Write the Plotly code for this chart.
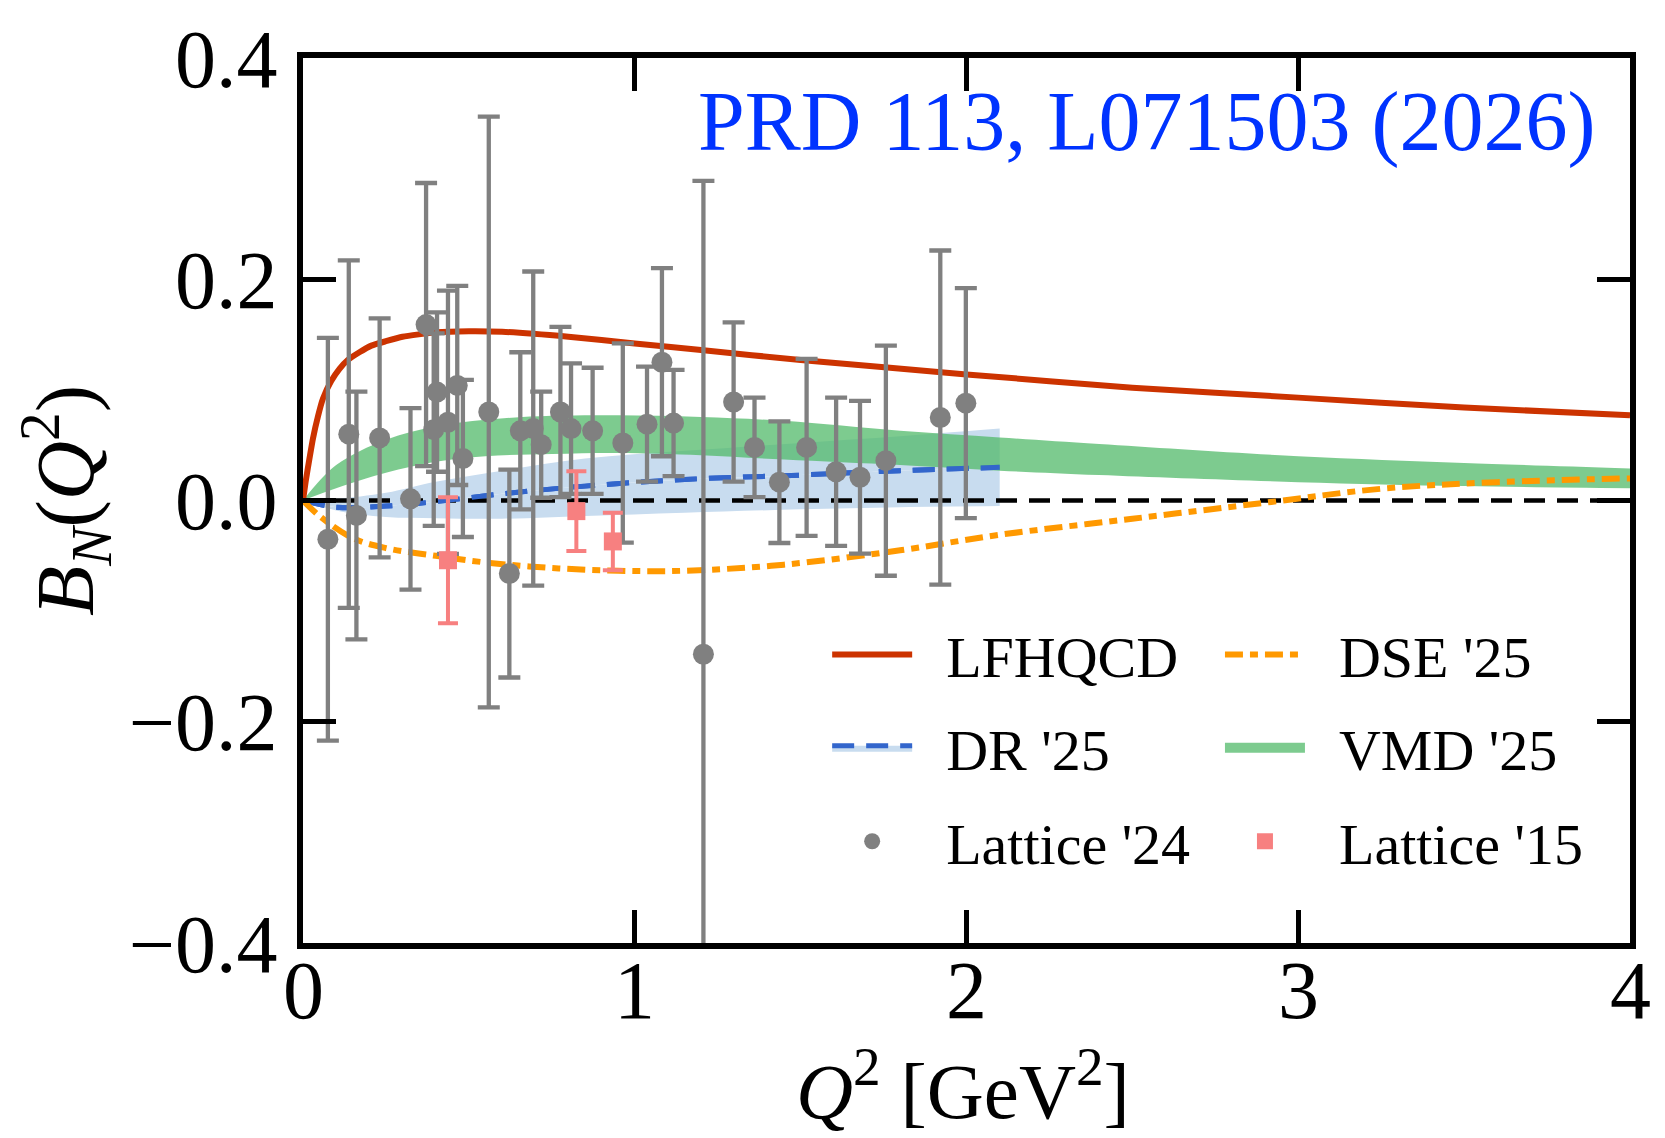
import plotly.graph_objects as go

# ---------------- data ----------------
# LFHQCD curve
lf_x = [0, 0.008, 0.015, 0.03, 0.045, 0.06, 0.085, 0.11, 0.135, 0.17, 0.206, 0.25, 0.3, 0.4, 0.5,
        0.6, 0.8, 1.0, 1.2, 1.5, 2.0, 2.5, 3.0, 3.5, 4.0]
lf_y = [0, 0.017, 0.03, 0.056, 0.076, 0.092, 0.108, 0.119, 0.127, 0.134, 0.140, 0.144, 0.148, 0.152, 0.153,
        0.1525, 0.148, 0.142, 0.136, 0.127, 0.114, 0.102, 0.093, 0.084, 0.077]

# DSE '25 curve
dse_x = [0, 0.05, 0.15, 0.25, 0.4, 0.55, 0.75, 0.95, 1.15, 1.45, 1.8, 2.1, 2.5, 2.9, 3.25, 3.6, 4.0]
dse_y = [0, -0.014, -0.034, -0.043, -0.050, -0.056, -0.061, -0.0635, -0.0635, -0.058, -0.045, -0.031,
         -0.0165, -0.002, 0.0106, 0.0166, 0.020]

# DR '25 central value and band
dr_x = [0, 0.1, 0.25, 0.4, 0.6, 0.85, 1.15, 1.5, 1.8, 2.1]
dr_mid = [0, -0.006, -0.005, -0.001, 0.006, 0.013, 0.019, 0.023, 0.027, 0.030]
dr_lo = [0, -0.009, -0.015, -0.016, -0.0165, -0.014, -0.011, -0.008, -0.006, -0.005]
dr_hi = [0, 0.0015, 0.007, 0.017, 0.027, 0.038, 0.045, 0.052, 0.058, 0.065]

# VMD '25 band
vmd_x = [0, 0.1, 0.25, 0.4, 0.55, 0.75, 0.95, 1.2, 1.45, 1.8, 2.1, 2.4, 3.0, 3.5, 4.0]
vmd_hi = [0, 0.032, 0.055, 0.067, 0.073, 0.0765, 0.077, 0.0755, 0.072, 0.063, 0.057, 0.051, 0.040, 0.034, 0.029]
vmd_lo = [0, 0.011, 0.025, 0.035, 0.040, 0.042, 0.043, 0.041, 0.037, 0.032, 0.027, 0.023, 0.0166, 0.013, 0.011]

# Lattice '24
lat24_x = [0.075, 0.138, 0.161, 0.231, 0.324, 0.371, 0.394, 0.404, 0.437, 0.465, 0.482,
           0.560, 0.622, 0.655, 0.694, 0.718, 0.776, 0.808, 0.873, 0.964, 1.037, 1.082,
           1.117, 1.207, 1.298, 1.361, 1.436, 1.518, 1.607, 1.679, 1.757, 1.921, 1.998]
lat24_y = [-0.035, 0.060, -0.0135, 0.0566, 0.0015, 0.159, 0.064, 0.098, 0.0707, 0.104, 0.038,
           0.080, -0.066, 0.063, 0.065, 0.0505, 0.080, 0.065, 0.063, 0.052, 0.069, 0.125,
           0.070, -0.139, 0.089, 0.048, 0.0166, 0.048, 0.026, 0.021, 0.036, 0.075, 0.088]
lat24_err = [0.182, 0.157, 0.112, 0.108, 0.082, 0.128, 0.087, 0.072, 0.119, 0.090, 0.071,
             0.267, 0.094, 0.071, 0.142, 0.048, 0.077, 0.059, 0.057, 0.090, 0.052, 0.085,
             0.048, 0.428, 0.072, 0.045, 0.055, 0.080, 0.067, 0.069, 0.104, 0.151, 0.104]

# Lattice '15
lat15_x = [0.437, 0.824, 0.934]
lat15_y = [-0.054, -0.0096, -0.037]
lat15_err = [0.057, 0.036, 0.026]

x_ticks = [0, 1, 2, 3, 4]
x_ticklabels = ["0", "1", "2", "3", "4"]
y_ticks = [-0.4, -0.2, 0.0, 0.2, 0.4]

# ---------------- styles ----------------
SERIF = "Liberation Serif, Times New Roman, serif"
RED = "#CC3300"
ORANGE = "#FF9900"
BLUE = "#3366CC"
BLUE_BAND = "#C8DCEF"
GREEN = "rgba(82,186,106,0.75)"
GRAY = "#808080"
PINK = "rgb(247,128,128)"
SP = "\u2002"  # gap between legend symbol and label

fig = go.Figure()

# DR band (lo -> mid -> hi)
fig.add_trace(go.Scatter(x=dr_x, y=dr_lo, mode="lines", line=dict(width=0, color=BLUE_BAND, shape="spline"),
                         showlegend=False, legendgroup="dr", hoverinfo="skip"))
fig.add_trace(go.Scatter(x=dr_x, y=dr_mid, mode="lines", fill="tonexty", fillcolor=BLUE_BAND,
                         line=dict(color=BLUE, width=5, dash="22px,12px", shape="spline"),
                         name=SP + "DR '25", legend="legend", legendgroup="dr", legendrank=2))
fig.add_trace(go.Scatter(x=dr_x, y=dr_hi, mode="lines", fill="tonexty", fillcolor=BLUE_BAND,
                         line=dict(width=0, color=BLUE_BAND, shape="spline"), showlegend=False,
                         legendgroup="dr", hoverinfo="skip"))

# VMD band
fig.add_trace(go.Scatter(x=vmd_x, y=vmd_lo, mode="lines", line=dict(width=0, color=GREEN, shape="spline"),
                         showlegend=False, legendgroup="vmd", hoverinfo="skip"))
fig.add_trace(go.Scatter(x=vmd_x, y=vmd_hi, mode="lines", fill="tonexty", fillcolor=GREEN,
                         line=dict(width=0, color=GREEN, shape="spline"), showlegend=False,
                         legendgroup="vmd", hoverinfo="skip"))
# legend key for the VMD band (thick bar, as in the original key)
fig.add_trace(go.Scatter(x=[None], y=[None], mode="lines", line=dict(color=GREEN, width=15),
                         name=SP + "VMD '25", legend="legend2", legendgroup="vmd", legendrank=2))

# zero line
fig.add_trace(go.Scatter(x=[0, 4], y=[0, 0], mode="lines",
                         line=dict(color="black", width=4.5, dash="21px,12px"),
                         showlegend=False, hoverinfo="skip"))

# DR central line on top
fig.add_trace(go.Scatter(x=dr_x, y=dr_mid, mode="lines",
                         line=dict(color=BLUE, width=5, dash="22px,12px", shape="spline"),
                         showlegend=False, legendgroup="dr"))

# DSE
fig.add_trace(go.Scatter(x=dse_x, y=dse_y, mode="lines",
                         line=dict(color=ORANGE, width=6, dash="18px,7px,8px,7px", shape="spline"),
                         name=SP + "DSE '25", legend="legend2", legendgroup="dse", legendrank=1))

# LFHQCD
fig.add_trace(go.Scatter(x=lf_x, y=lf_y, mode="lines",
                         line=dict(color=RED, width=6, shape="spline", smoothing=0.5),
                         name=SP + "LFHQCD", legend="legend", legendgroup="lf", legendrank=1))

# Lattice '24
fig.add_trace(go.Scatter(x=lat24_x, y=lat24_y, mode="markers",
                         marker=dict(color=GRAY, size=21, symbol="circle"),
                         error_y=dict(type="data", array=lat24_err, color=GRAY, thickness=4.3, width=11),
                         name=SP + "Lattice '24", legend="legend", legendgroup="l24", legendrank=3))

# Lattice '15
fig.add_trace(go.Scatter(x=lat15_x, y=lat15_y, mode="markers",
                         marker=dict(color=PINK, size=18, symbol="square"),
                         error_y=dict(type="data", array=lat15_err, color=PINK, thickness=4, width=10),
                         name=SP + "Lattice '15", legend="legend2", legendgroup="l15", legendrank=3))

axis_common = dict(showline=True, linewidth=6, linecolor="black", mirror="ticks",
                   ticks="inside", ticklen=33, tickwidth=5, tickcolor="black",
                   showgrid=False, zeroline=False,
                   tickfont=dict(family=SERIF, size=82, color="black"))

legend_common = dict(font=dict(family=SERIF, size=58, color="black"), bgcolor="rgba(0,0,0,0)",
                     xanchor="left", yanchor="top", tracegroupgap=15, itemwidth=80,
                     orientation="v", traceorder="grouped")

# x tick labels placed as text just under the frame (closer than plotly's default offset)
annotations = [dict(text=lab, xref="x", yref="paper", x=v, y=0.0, xanchor="center", yanchor="top",
                    showarrow=False, font=dict(family=SERIF, size=82, color="black"))
               for v, lab in zip(x_ticks, x_ticklabels)]
# x axis title
annotations.append(dict(text="<i>Q</i><sup>2</sup> [GeV<sup>2</sup>]", xref="paper", yref="paper",
                        x=0.497, y=-0.219, xanchor="center", yanchor="bottom", showarrow=False,
                        font=dict(family=SERIF, size=79, color="black")))
# citation
annotations.append(dict(text="PRD 113, L071503 (2026)", xref="paper", yref="paper",
                        x=0.976, y=0.928, xanchor="right", yanchor="middle", showarrow=False,
                        font=dict(family=SERIF, size=84, color="#0033FF")))

fig.update_layout(
    width=1665, height=1138,
    margin=dict(l=295, r=43, t=50, b=203),
    paper_bgcolor="white", plot_bgcolor="white",
    xaxis=dict(range=[0, 4], tickvals=x_ticks, showticklabels=False,
               automargin=False, **axis_common),
    yaxis=dict(range=[-0.4, 0.4], tickvals=y_ticks, tickformat=".1f",
               title=dict(text="<i>B</i><sub><i>N</i></sub>(<i>Q</i><sup>2</sup>)", standoff=10,
                          font=dict(family=SERIF, size=82, color="black")),
               ticklabelstandoff=3, automargin=False, **axis_common),
    legend=dict(x=0.395, y=0.376, **legend_common),
    legend2=dict(x=0.691, y=0.376, **legend_common),
    annotations=annotations,
)

fig.write_html("out.html")
